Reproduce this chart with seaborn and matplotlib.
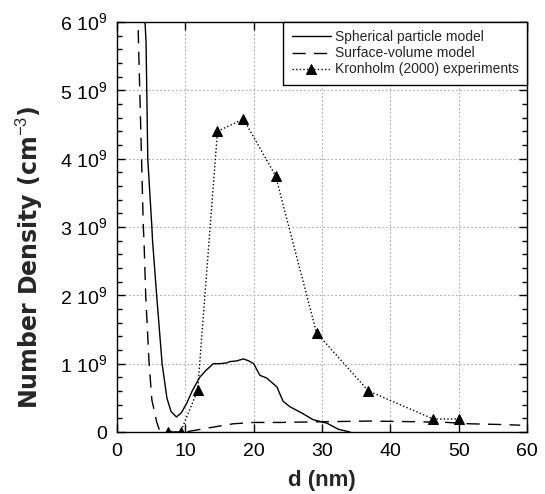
import matplotlib
matplotlib.use("Agg")
import matplotlib.pyplot as plt
import seaborn as sns
import pandas as pd
from matplotlib.ticker import FuncFormatter, MultipleLocator

# Particle diameter d (nm) and number density (units of 1e9 cm^-3)
sph_d = [4.1, 4.25, 4.4, 4.5, 5.1, 5.2, 5.8, 6.6, 7.3, 7.9, 8.7, 9.4, 10.2, 11.0,
         12.1, 13.0, 14.1, 15.0, 16.0, 16.5, 17.5, 18.5, 19.3, 20.0, 20.9, 21.9,
         23.4, 24.3, 25.3, 27.0, 28.7, 30.7, 32.4, 34.1]
sph_n = [6.0, 5.7, 4.7, 4.0, 3.0, 2.8, 2.0, 1.0, 0.5, 0.3, 0.22, 0.28, 0.42, 0.6,
         0.8, 0.9, 1.0, 1.0, 1.01, 1.03, 1.04, 1.07, 1.04, 1.0, 0.83, 0.79,
         0.66, 0.45, 0.37, 0.28, 0.18, 0.13, 0.04, 0.0]

sv_d = [3.1, 3.85, 3.95, 4.2, 4.7, 5.1, 5.8, 6.3, 10.0, 11.7, 14.0, 17.0, 20.0,
        24.0, 30.0, 37.0, 44.0, 48.3, 51.7, 56.0, 59.0]
sv_n = [5.88, 3.0, 2.8, 2.0, 1.0, 0.47, 0.15, 0.0, 0.0, 0.03, 0.07, 0.12, 0.14,
        0.14, 0.15, 0.16, 0.15, 0.14, 0.12, 0.11, 0.10]

exp_d = [7.4, 9.3, 11.8, 14.7, 18.5, 23.2, 29.2, 36.8, 46.3, 50.0]
exp_n = [0.0, 0.0, 0.61, 4.40, 4.58, 3.75, 1.45, 0.60, 0.19, 0.19]

x_ticks = [0, 10, 20, 30, 40, 50, 60]

sph = pd.DataFrame({"d": sph_d, "n": sph_n})
sv = pd.DataFrame({"d": sv_d, "n": sv_n})
exp = pd.DataFrame({"d": exp_d, "n": exp_n})

sns.set_style("ticks")
plt.rcParams["font.family"] = ["Liberation Sans", "DejaVu Sans"]
plt.rcParams["mathtext.fontset"] = "custom"
plt.rcParams["mathtext.rm"] = "Liberation Sans"
plt.rcParams["mathtext.bf"] = "Liberation Sans:bold"

fig = plt.figure(figsize=(5.45, 4.94), dpi=100)
ax = fig.add_axes([0.2147, 0.1255, 0.7523, 0.83])

sns.lineplot(data=sph, x="d", y="n", ax=ax, color="black", lw=1.0,
             sort=False, estimator=None, label="Spherical particle model")
sns.lineplot(data=sv, x="d", y="n", ax=ax, color="black", lw=1.0,
             sort=False, estimator=None, label="Surface-volume model")
sns.lineplot(data=exp, x="d", y="n", ax=ax, color="black", lw=1.0,
             sort=False, estimator=None, marker="^", markersize=6.5,
             markeredgecolor="black", label="Kronholm (2000) experiments")
ax.lines[1].set_dashes((9.5, 6))
ax.lines[2].set_dashes((1, 1.6))

ax.set_xlim(0, 60)
ax.set_ylim(0, 6)
ax.set_xticks(x_ticks)
ax.yaxis.set_major_locator(MultipleLocator(1))
ax.yaxis.set_minor_locator(MultipleLocator(0.2))
ax.yaxis.set_major_formatter(FuncFormatter(
    lambda v, p: "0" if v == 0 else f"{int(round(v))} 10$^{{9}}$"))

ax.grid(True, which="major", color="#aaaaaa", linestyle=(0, (1.5, 2)), lw=0.8)
ax.tick_params(which="both", direction="in", top=True, right=True,
               labelsize=14, colors="black")
ax.tick_params(which="major", length=6, width=1)
ax.tick_params(which="minor", length=3.5, width=1)
ax.tick_params(axis="x", which="minor", top=False, bottom=False)
ax.tick_params(axis="x", which="major", pad=8)
ax.tick_params(axis="y", which="major", pad=7)
for s in ax.spines.values():
    s.set_color("black")
    s.set_linewidth(1.0)

ax.set_xlabel("d (nm)", fontsize=16, fontweight="bold", labelpad=7)
ax.set_ylabel(r"Number Density (cm$^{-3}$)", fontsize=17,
              fontweight="bold", family=["DejaVu Sans"])
ax.yaxis.set_label_coords(-0.175, 0.427)

leg = ax.legend(loc="upper right", fontsize=10, frameon=True, fancybox=False,
                edgecolor="black", framealpha=1, borderaxespad=0,
                handlelength=2.8, labelspacing=0.15, handletextpad=0.3,
                borderpad=0.6)
leg.get_frame().set_linewidth(1.0)

fig.savefig("out.png", dpi=100)
